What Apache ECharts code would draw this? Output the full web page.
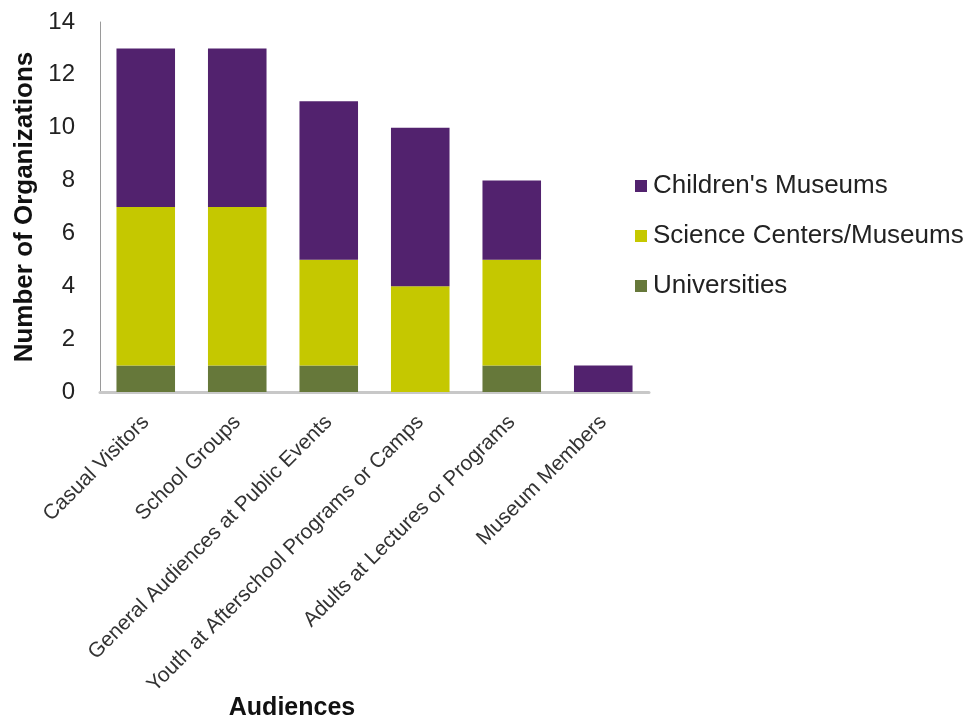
<!DOCTYPE html>
<html>
<head>
<meta charset="utf-8">
<script src="https://cdn.jsdelivr.net/npm/echarts@6/dist/echarts.min.js"></script>
<style>
  html, body { margin: 0; padding: 0; background: #fff; }
  #chart { width: 966px; height: 719px; }
</style>
</head>
<body>
<div id="chart"></div>
<script>
// Audience categories along the x axis
const categories = [
  'Casual Visitors',
  'School Groups',
  'General Audiences at Public Events',
  'Youth at Afterschool Programs or Camps',
  'Adults at Lectures or Programs',
  'Museum Members'
];

// Number of organizations per audience, by organization type
const universities = [1, 1, 1, 0, 1, 0];
const scienceCenters = [6, 6, 4, 4, 4, 0];
const childrensMuseums = [6, 6, 6, 6, 3, 1];

const yTicks = { min: 0, max: 14, interval: 2 };

const font = 'Liberation Sans, Arial, Helvetica, sans-serif';

const chart = echarts.init(document.getElementById('chart'));

function bar(name, data, color) {
  return {
    name: name,
    type: 'bar',
    stack: 'total',
    data: data,
    barWidth: '64%',
    itemStyle: { color: color },
    emphasis: { disabled: true }
  };
}

chart.setOption({
  animation: false,
  textStyle: { fontFamily: font },
  grid: { left: 100, right: 317, top: 22, bottom: 327, containLabel: false },
  legend: {
    orient: 'vertical',
    left: 630,
    top: 168,
    itemGap: 24,
    itemWidth: 12,
    itemHeight: 12,
    icon: 'rect',
    data: ["Children's Museums", 'Science Centers/Museums', 'Universities'],
    textStyle: { fontSize: 26, color: '#222', fontFamily: font, padding: [0, 0, 0, 1] }
  },
  xAxis: {
    type: 'category',
    data: categories,
    axisLine: { show: true, lineStyle: { color: '#c8c8c8', width: 3 } },
    axisTick: { show: false },
    axisLabel: {
      rotate: 45,
      interval: 0,
      margin: 27,
      fontSize: 21,
      color: '#333',
      fontFamily: font
    }
  },
  yAxis: {
    type: 'value',
    min: yTicks.min,
    max: yTicks.max,
    interval: yTicks.interval,
    name: 'Number of Organizations',
    nameLocation: 'middle',
    nameGap: 61,
    nameTextStyle: { fontSize: 26, fontWeight: 'bold', color: '#111', fontFamily: font },
    axisLine: { show: true, lineStyle: { color: '#9a9a9a', width: 1 } },
    axisTick: { show: false },
    splitLine: { show: false },
    axisLabel: { fontSize: 24, color: '#222', margin: 25, padding: [6, 0, 0, 0], fontFamily: font }
  },
  graphic: [{
    type: 'text',
    x: 292,
    y: 708,
    style: {
      text: 'Audiences',
      font: 'bold 25px ' + font,
      fill: '#111',
      align: 'center',
      verticalAlign: 'middle'
    }
  }],
  series: [
    bar('Universities', universities, '#66783a'),
    bar('Science Centers/Museums', scienceCenters, '#c5c800'),
    bar("Children's Museums", childrensMuseums, '#52226e')
  ]
});
</script>
</body>
</html>
